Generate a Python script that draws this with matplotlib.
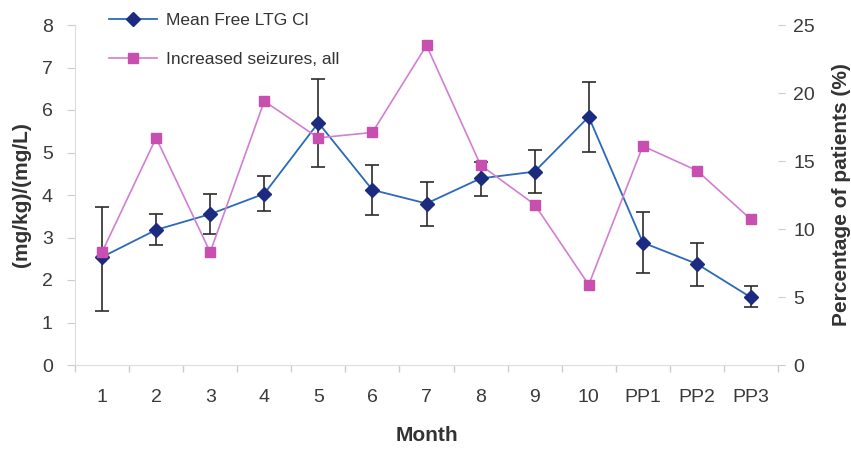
import matplotlib
matplotlib.use("Agg")
import matplotlib.pyplot as plt
import numpy as np
from matplotlib.lines import Line2D

plt.rcParams['font.family'] = ['Liberation Sans', 'DejaVu Sans']

months = ["1", "2", "3", "4", "5", "6", "7", "8", "9", "10", "PP1", "PP2", "PP3"]
ltg_mean = [2.54, 3.18, 3.55, 4.03, 5.70, 4.12, 3.80, 4.39, 4.55, 5.84, 2.88, 2.38, 1.59]
ltg_high = [3.72, 3.55, 4.03, 4.45, 6.72, 4.70, 4.30, 4.78, 5.06, 6.67, 3.61, 2.88, 1.87]
ltg_low = [1.28, 2.83, 3.08, 3.62, 4.65, 3.53, 3.28, 3.98, 4.05, 5.02, 2.16, 1.87, 1.36]
seizures_pct = [8.3, 16.7, 8.3, 19.4, 16.7, 17.1, 23.5, 14.7, 11.8, 5.9, 16.1, 14.3, 10.7]

fig = plt.figure(figsize=(8.51, 4.49), dpi=100)
ax = fig.add_axes([75/851, 1-365/449, (778-75)/851, (365-25)/449])
ax2 = ax.twinx()

x = np.arange(1, len(months) + 1)
mean = np.array(ltg_mean)
yerr = [mean - np.array(ltg_low), np.array(ltg_high) - mean]

ax.errorbar(x, mean, yerr=yerr, fmt='none', ecolor='#2b2b2b', elinewidth=1.2,
            capsize=5, capthick=1.2, zorder=2)
ax.plot(x, mean, color='#2a6ab8', lw=1.3, marker='D', markersize=7,
        markerfacecolor='#1c2a80', markeredgecolor='#1c2a80', zorder=3)

ax2.plot(x, seizures_pct, color='#d27fd2', lw=1.2, marker='s', markersize=7,
         markerfacecolor='#c84fb0', markeredgecolor='#c84fb0', zorder=3)

ax.set_xlim(0.5, len(months) + 0.5)
ax.set_ylim(0, 8)
ax2.set_ylim(0, 25)
ax.set_yticks(range(0, 9))
ax2.set_yticks(range(0, 26, 5))

ax.set_xticks(x)
ax.set_xticklabels(months)
ax.set_xticks(np.arange(0.5, len(months) + 1, 1), minor=True)
ax.tick_params(axis='x', which='major', length=0, pad=17, labelsize=14, labelcolor='#3a3a3a')
ax.tick_params(axis='x', which='minor', length=5, color='#cccccc', width=1)
ax.tick_params(axis='y', length=6, color='#cccccc', labelsize=14, labelcolor='#3a3a3a', pad=10)
ax2.tick_params(axis='y', length=5, color='#cccccc', labelsize=14, labelcolor='#3a3a3a', pad=6)

for s in ['top', 'right']:
    ax.spines[s].set_visible(False)
for s in ['top', 'right', 'left', 'bottom']:
    ax2.spines[s].set_visible(False)
ax.spines['left'].set_color('#dddddd')
ax.spines['bottom'].set_color('#dddddd')

ax.set_xlabel('Month', fontsize=15, fontweight='bold', color='#333333', labelpad=15)
ax.set_ylabel('(mg/kg)/(mg/L)', fontsize=15, fontweight='bold', color='#333333', labelpad=8)
ax2.set_ylabel('Percentage of patients (%)', fontsize=15, fontweight='bold', color='#333333', labelpad=12)

handles = [
    Line2D([], [], color='#2a6ab8', lw=1.3, marker='D', markersize=7,
           markerfacecolor='#1c2a80', markeredgecolor='#1c2a80'),
    Line2D([], [], color='#d27fd2', lw=1.2, marker='s', markersize=7,
           markerfacecolor='#c84fb0', markeredgecolor='#c84fb0'),
]
fig.legend(handles, ['Mean Free LTG Cl', 'Increased seizures, all'],
           loc='upper left', bbox_to_anchor=(93/851, 1 + 3/449), frameon=False,
           fontsize=12.5, labelspacing=1.4, handlelength=2.8, handletextpad=0.5,
           labelcolor='#333333')

fig.savefig('out.png', dpi=100)
